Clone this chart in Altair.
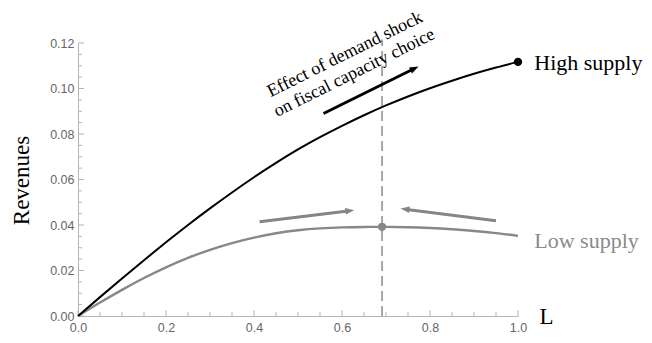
import math
import altair as alt
import pandas as pd

# ---- data ----
L_grid = [0.0, 0.05, 0.1, 0.15, 0.2, 0.25, 0.3, 0.35, 0.4, 0.45, 0.5,
          0.55, 0.6, 0.65, 0.7, 0.75, 0.8, 0.85, 0.9, 0.95, 1.0]
high_supply = [0.0, 0.0083, 0.0165, 0.02455, 0.0324, 0.0400, 0.0473, 0.0543,
               0.0610, 0.0673, 0.0732, 0.0786, 0.0836, 0.08825, 0.09255, 0.0965,
               0.1001, 0.1034, 0.10645, 0.1092, 0.1117]
low_supply = [0.0, 0.0059, 0.0115, 0.0167, 0.0214, 0.02555, 0.0291, 0.03205,
              0.03445, 0.03635, 0.0377, 0.0385, 0.03895, 0.03915, 0.03918, 0.03903,
              0.03868, 0.03813, 0.03738, 0.03643, 0.03523]

choice_L = 0.691          # optimal fiscal capacity (dashed line)
choice_R_low = 0.0392
end_R_high = 0.1117

# arrows: start L, start R, end L, end R, colour
arrow_x1 = [0.558, 0.4127, 0.950]
arrow_y1 = [0.0890, 0.04144, 0.0419]
arrow_x2 = [0.774, 0.628, 0.733]
arrow_y2 = [0.1097, 0.04653, 0.0472]
arrow_col = ["#000000", "#858585", "#858585"]

# text labels
series_labels = ["High supply", "Low supply"]
series_label_x = [1.037, 1.037]
series_label_y = [0.1113, 0.0330]
series_label_col = ["#000000", "#8a8a8a"]

note_lines = ["Effect of demand shock", "on fiscal capacity choice"]
note_x = [0.607, 0.628]
note_y = [0.1149, 0.1068]

x_ticks = [0.0, 0.2, 0.4, 0.6, 0.8, 1.0]
y_ticks = [0.0, 0.02, 0.04, 0.06, 0.08, 0.10, 0.12]
x_minor = [0.05, 0.1, 0.15, 0.25, 0.3, 0.35, 0.45, 0.5, 0.55, 0.65, 0.7, 0.75,
           0.85, 0.9, 0.95]
y_minor = [0.005, 0.01, 0.015, 0.025, 0.03, 0.035, 0.045, 0.05, 0.055, 0.065,
           0.07, 0.075, 0.085, 0.09, 0.095, 0.105, 0.11, 0.115]

# ---- layout ----
W, H = 440, 273
XMAX, YMAX = 1.0, 0.12
AXIS = "#b4b4b4"
SERIF = "Liberation Serif"
SANS = "Liberation Sans"
BIG = 22

xs = alt.Scale(domain=[0, XMAX], nice=False, zero=False)
ys = alt.Scale(domain=[0, YMAX], nice=False, zero=False)

xaxis = alt.Axis(values=x_ticks, format=".1f", title=None, grid=False, ticks=False,
                 domainColor=AXIS, domainWidth=1, labelFont=SANS, labelFontSize=12.5,
                 labelColor="#666666", labelPadding=5, labelFlush=False)
yaxis = alt.Axis(values=y_ticks, format=".2f", title="Revenues", grid=False, ticks=False,
                 domainColor=AXIS, domainWidth=1, labelFont=SANS, labelFontSize=12.5,
                 labelColor="#666666", labelPadding=4, labelFlush=False,
                 titleFont=SERIF, titleFontSize=23, titleFontWeight="normal",
                 titleColor="#000000", titleX=-57, titleY=137, titleAngle=270,
                 titleAlign="center", titleBaseline="middle")

df_high = pd.DataFrame({"L": L_grid, "R": high_supply})
df_low = pd.DataFrame({"L": L_grid, "R": low_supply})

base_x = alt.X("L:Q", scale=xs, axis=xaxis)
base_y = alt.Y("R:Q", scale=ys, axis=yaxis)

line_low = alt.Chart(df_low).mark_line(color="#888888", strokeWidth=2.4, interpolate="natural").encode(
    x=base_x, y=base_y)
line_high = alt.Chart(df_high).mark_line(color="#000000", strokeWidth=2, interpolate="natural").encode(
    x="L:Q", y="R:Q")

dash = alt.Chart(pd.DataFrame({"L": [choice_L], "R": [0.0], "R2": [0.1215]})).mark_rule(
    color="#7a7a7a", strokeWidth=1.3, strokeDash=[10, 5]).encode(
    x="L:Q", y="R:Q", y2="R2:Q")

dots = alt.Chart(pd.DataFrame({"L": [1.0, choice_L], "R": [end_R_high, choice_R_low],
                               "c": ["#000000", "#888888"]})).mark_point(
    filled=True, size=70, opacity=1).encode(x="L:Q", y="R:Q", color=alt.Color("c:N", scale=None))

# arrows
pxL = W / XMAX
pxR = H / YMAX
head_len = 9.0
rows_seg = []
rows_head = []
for i in range(len(arrow_x1)):
    dx = (arrow_x2[i] - arrow_x1[i]) * pxL
    dy = -(arrow_y2[i] - arrow_y1[i]) * pxR
    ang = math.degrees(math.atan2(dy, dx)) % 360
    d = math.hypot(dx, dy)
    f = (d - head_len * 0.7) / d
    ex = arrow_x1[i] + (arrow_x2[i] - arrow_x1[i]) * f
    ey = arrow_y1[i] + (arrow_y2[i] - arrow_y1[i]) * f
    rows_seg.append({"L": arrow_x1[i], "R": arrow_y1[i], "L2": ex, "R2": ey, "c": arrow_col[i]})
    rows_head.append({"L": arrow_x2[i], "R": arrow_y2[i], "a": ang, "c": arrow_col[i]})

arrow_lines = alt.Chart(pd.DataFrame(rows_seg)).mark_rule(strokeWidth=3).encode(
    x="L:Q", y="R:Q", x2="L2:Q", y2="R2:Q", color=alt.Color("c:N", scale=None))
arrow_heads = alt.Chart(pd.DataFrame(rows_head)).mark_point(
    shape="M0,0 L-2,-0.75 L-2,0.75 Z", filled=True, size=81, opacity=1, strokeWidth=0).encode(
    x="L:Q", y="R:Q", angle=alt.Angle("a:Q", scale=None), color=alt.Color("c:N", scale=None))

labels = alt.Chart(pd.DataFrame({"t": series_labels, "L": series_label_x, "R": series_label_y,
                                 "c": series_label_col})).mark_text(
    font=SERIF, fontSize=BIG, align="left", baseline="middle").encode(
    x="L:Q", y="R:Q", text="t:N", color=alt.Color("c:N", scale=None))

x_title = alt.Chart(pd.DataFrame({"t": ["L"], "L": [1.065], "R": [0.0]})).mark_text(
    font=SERIF, fontSize=23, align="center", baseline="middle", color="#000000", dy=1).encode(
    x="L:Q", y="R:Q", text="t:N")

note = alt.Chart(pd.DataFrame({"t": note_lines, "L": note_x, "R": note_y})).mark_text(
    font=SERIF, fontSize=18, align="center", baseline="middle", angle=333.5, color="#000000").encode(
    x="L:Q", y="R:Q", text="t:N")

# inward ticks
yt_major = alt.Chart(pd.DataFrame({"R": y_ticks})).mark_rule(color=AXIS, strokeWidth=1).encode(
    y="R:Q", x=alt.value(0), x2=alt.value(6))
yt_minor = alt.Chart(pd.DataFrame({"R": y_minor})).mark_rule(color=AXIS, strokeWidth=1).encode(
    y="R:Q", x=alt.value(0), x2=alt.value(4))
xt_major = alt.Chart(pd.DataFrame({"L": x_ticks})).mark_rule(color=AXIS, strokeWidth=1).encode(
    x="L:Q", y=alt.value(H), y2=alt.value(H - 6))
xt_minor = alt.Chart(pd.DataFrame({"L": x_minor})).mark_rule(color=AXIS, strokeWidth=1).encode(
    x="L:Q", y=alt.value(H), y2=alt.value(H - 4))

chart = alt.layer(
    line_low, yt_major, yt_minor, xt_major, xt_minor, dash, line_high, dots,
    arrow_lines, arrow_heads, labels, x_title, note
).properties(
    width=W, height=H,
    autosize=alt.AutoSizeParams(type="none"),
    padding={"left": 70, "top": 35, "right": 126, "bottom": 19},
).configure_view(stroke=None)

chart.save("out.html", embed_options={"renderer": "svg", "actions": False})
